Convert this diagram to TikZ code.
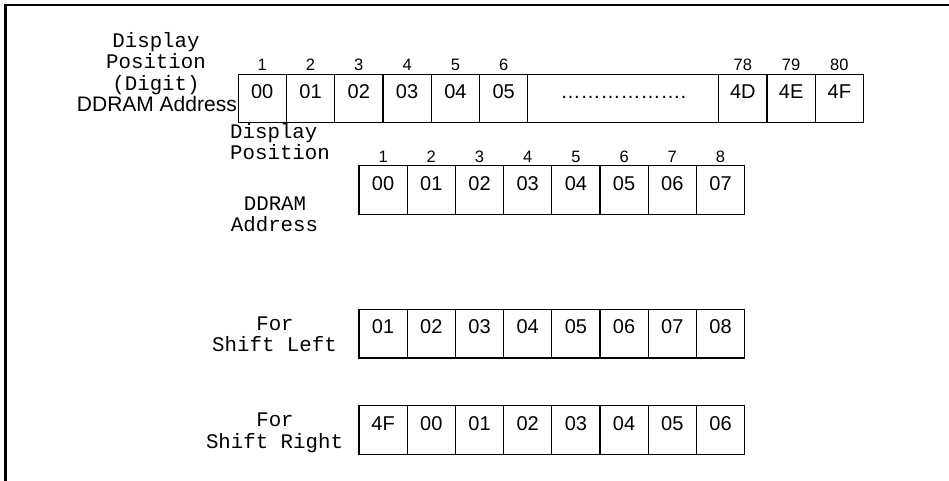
\documentclass[tikz,border=0pt]{standalone}
\usepackage{fontspec}
\setmainfont{Liberation Sans}
\setmonofont{Liberation Mono}
\usepackage{tikz}
\usetikzlibrary{positioning}

\tikzset{
  cell/.style={draw, line width=1.2pt, minimum width=48.2pt, minimum height=48.5pt,
    inner sep=0pt, outer sep=0pt, text height=11pt, text depth=11pt,
    font=\fontsize{20}{22}\selectfont},
  num/.style={inner sep=0pt, font=\fontsize{16.5}{18}\selectfont},
  mono/.style={inner sep=0pt, font=\ttfamily\fontsize{20.75}{24}\selectfont},
  addr/.style={inner sep=0pt, font=\fontsize{21}{24}\selectfont}
}

\begin{document}
\begin{tikzpicture}[x=1pt,y=1pt]
\useasboundingbox (0,0) rectangle (949,-481);
\draw[line width=2.6pt] (5.5,-481)--(5.5,-5)--(949,-5);
% 80 digit display
\node[mono, anchor=base] (dispA) at (156,-47.7) {Display};
\node[mono, anchor=base] (posA) at (156,-69) {Position};
\node[mono, anchor=base] (digA) at (156,-91) {(Digit)};
\node[addr, anchor=base east] (addrA) at (237,-111.7) {DDRAM Address};
\foreach \t [count=\i] in {00,01,02,03,04,05}
  \node[cell] (a\i) at ({262.2+48.3*(\i-1)},-98.5) {\t};
\node[cell, minimum width=191pt, right=0pt of a6] (adots) {……………….};
\node[cell, right=0pt of adots] (a78) {4D};
\node[cell, right=0pt of a78] (a79) {4E};
\node[cell, right=0pt of a79] (a80) {4F};
\foreach \i in {1,...,6}
  \node[num, above=3.3pt of a\i] (na\i) {\i};
\foreach \i in {78,79,80}
  \node[num, above=3.3pt of a\i] (na\i) {\i};
% 8 digit display
\node[mono, anchor=base west] (dispB) at (230,-138.3) {Display};
\node[mono, anchor=base west] (posB) at (230,-160) {Position};
\node[mono, anchor=base] (ddB) at (275,-210.7) {DDRAM};
\node[mono, anchor=base] (addrB) at (274.5,-231.7) {Address};
\foreach \t [count=\i] in {00,01,02,03,04,05,06,07}{
  \node[cell] (b\i) at ({383.1+48.2*(\i-1)},-190) {\t};
  \node[num, above=3.3pt of b\i] (nb\i) {\i};
}
% shift left
\node[mono, anchor=base] (forL) at (275,-330) {For};
\node[mono, anchor=base] (shL) at (274.5,-351.7) {Shift Left};
\foreach \t [count=\i] in {01,02,03,04,05,06,07,08}
  \node[cell] (sl\i) at ({383.1+48.2*(\i-1)},-333.7) {\t};
% shift right
\node[mono, anchor=base] (forR) at (275,-426) {For};
\node[mono, anchor=base] (shR) at (274.5,-448.3) {Shift Right};
\foreach \t [count=\i] in {4F,00,01,02,03,04,05,06}
  \node[cell] (sr\i) at ({383.1+48.2*(\i-1)},-430) {\t};
\end{tikzpicture}
\end{document}
